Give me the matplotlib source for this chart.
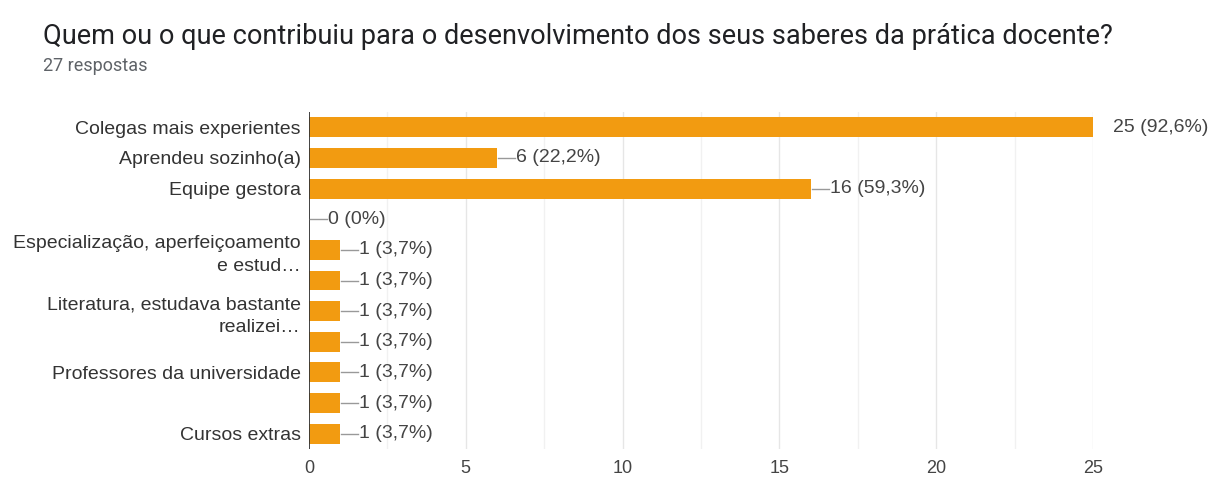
import matplotlib
matplotlib.use("Agg")
import matplotlib.pyplot as plt
from matplotlib.lines import Line2D
from matplotlib.transforms import offset_copy

plt.rcParams['font.family'] = ['Liberation Sans', 'DejaVu Sans']

title = "Quem ou o que contribuiu para o desenvolvimento dos seus saberes da prática docente?"
subtitle = "27 respostas"
categories = [
    "Colegas mais experientes",
    "Aprendeu sozinho(a)",
    "Equipe gestora",
    "",
    "Especialização, aperfeiçoamento\ne estud…",
    "",
    "Literatura, estudava bastante\nrealizei…",
    "",
    "Professores da universidade",
    "",
    "Cursos extras",
]
counts = [25, 6, 16, 0, 1, 1, 1, 1, 1, 1, 1]
value_labels = ["25 (92,6%)", "6 (22,2%)", "16 (59,3%)", "0 (0%)", "1 (3,7%)", "1 (3,7%)",
                "1 (3,7%)", "1 (3,7%)", "1 (3,7%)", "1 (3,7%)", "1 (3,7%)"]
xticks = [0, 5, 10, 15, 20, 25]
xmax = 25

W, H = 1211, 479
fig = plt.figure(figsize=(W / 100, H / 100), dpi=100)
ax = fig.add_axes([309 / W, 1 - 449 / H, (1093 - 309) / W, (449 - 112) / H])

bar_color = '#f29b11'
y = list(range(len(categories)))
ax.barh(y, counts, height=0.65, color=bar_color, zorder=3)
ax.set_ylim(len(categories) - 0.5, -0.5)
ax.set_xlim(0, xmax)

# gridlines
for g in [i * 2.5 for i in range(1, 11)]:
    ax.axvline(g, color='#e6e6e6' if g % 5 == 0 else '#f1f1f1', lw=1, zorder=1)
ax.axvline(0, color='#333333', lw=1.3, zorder=4)

for s in ax.spines.values():
    s.set_visible(False)

ax.set_yticks(y)
ax.set_yticklabels(categories, fontsize=14, color='#333333', linespacing=1.45)
ax.tick_params(axis='y', length=0, pad=6)
ax.set_xticks(xticks)
ax.set_xticklabels([str(t) for t in xticks], fontsize=13, color='#444444')
ax.tick_params(axis='x', length=0, pad=8)

fig.canvas.draw()
# value labels with connectors
for yi, v, lab in zip(y, counts, value_labels):
    if v >= xmax:
        ax.text(v, yi, lab, transform=offset_copy(ax.transData, fig=fig, x=20, y=0, units='dots'),
                va='center', ha='left', fontsize=14, color='#444444', clip_on=False)
    else:
        x0, y0 = ax.transData.transform((v, yi))
        fig.add_artist(Line2D([(x0 + 1) / W, (x0 + 18) / W], [y0 / H, y0 / H],
                              color='#999999', lw=1))
        ax.text(v, yi, lab, transform=offset_copy(ax.transData, fig=fig, x=19, y=0, units='dots'),
                va='center', ha='left', fontsize=14, color='#444444', clip_on=False)

fig.text(43 / W, 1 - 36 / H, title, fontsize=19.5, color='#202124', va='center', ha='left',
         family=['Roboto', 'DejaVu Sans'])
fig.text(43 / W, 1 - 66 / H, subtitle, fontsize=13, color='#5f6368', va='center', ha='left',
         family=['Roboto', 'DejaVu Sans'])

fig.savefig('out.png', dpi=100, facecolor='white')
